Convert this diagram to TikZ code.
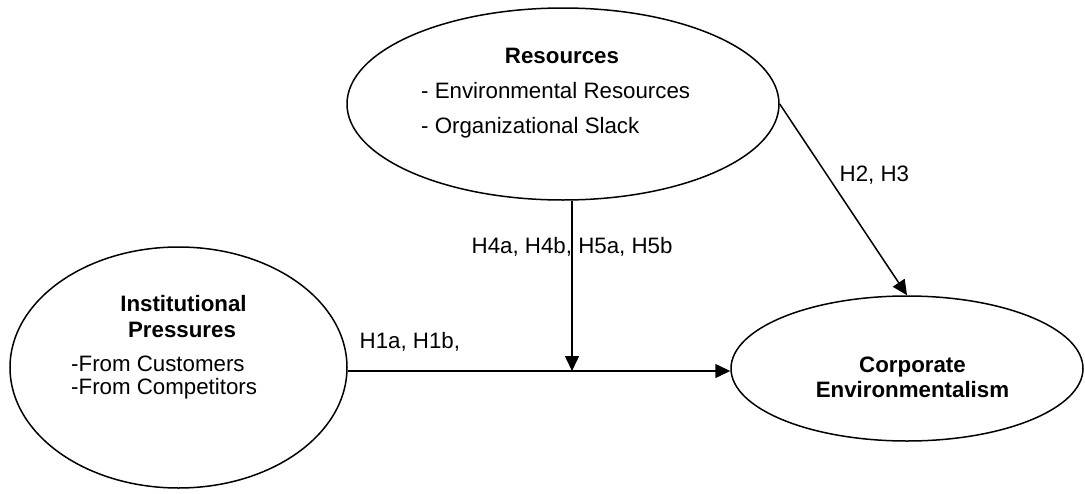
\documentclass[tikz,border=0pt]{standalone}
\usepackage{fontspec}
\setmainfont{Liberation Sans}
\usetikzlibrary{shapes.geometric,arrows.meta}
\begin{document}
\begin{tikzpicture}[x=1pt,y=-1pt,
  every node/.style={font=\fontsize{22.3}{26}\selectfont},
  oval/.style={draw,ellipse,line width=1.5pt,inner sep=0pt},
  txt/.style={inner sep=0pt},
  arr/.style={line width=1.5pt,-{Triangle[length=15pt,width=14pt]}},
  conn/.style={line width=1.5pt}]
\useasboundingbox (0,0) rectangle (1085,493);
% ellipses
\node[oval,minimum width=432pt,minimum height=192pt] (res) at (563,104) {};
\node[oval,minimum width=337pt,minimum height=241pt] (inst) at (178.5,367.5) {};
\node[oval,minimum width=352pt,minimum height=145pt] (corp) at (907,368.5) {};
% texts in Resources
\node[txt,anchor=base,font=\fontsize{22.3}{26}\selectfont\bfseries] (resT) at (562,63) {Resources};
\node[txt,anchor=base west] (res1) at (421,98) {- Environmental Resources};
\node[txt,anchor=base west] (res2) at (421,133) {- Organizational Slack};
% texts in Institutional
\node[txt,anchor=base,font=\fontsize{22.3}{26}\selectfont\bfseries] (instT1) at (183.5,311) {Institutional};
\node[txt,anchor=base,font=\fontsize{22.3}{26}\selectfont\bfseries] (instT2) at (182,337) {Pressures};
\node[txt,anchor=base west] (inst1) at (71,371) {-From Customers};
\node[txt,anchor=base west] (inst2) at (71,394) {-From Competitors};
% texts in Corporate
\node[txt,anchor=base,font=\fontsize{22.3}{26}\selectfont\bfseries] (corpT1) at (912.5,372) {Corporate};
\node[txt,anchor=base,font=\fontsize{22.3}{26}\selectfont\bfseries] (corpT2) at (912.5,397) {Environmentalism};
% connectors
\coordinate (hy) at (0,371);
\coordinate (mid) at (572,371);
\draw[arr] (inst.east |- hy) -- (corp.west |- hy);
\draw[arr] (res.south -| mid) -- (mid);
\draw[arr] (res.east) -- (corp.north);
% labels
\node[txt,anchor=base west] (h1) at (359.5,348) {H1a, H1b,};
\node[txt,anchor=base west] (h4) at (471.5,253) {H4a, H4b, H5a, H5b};
\node[txt,anchor=base west] (h2) at (839.5,181) {H2, H3};
\end{tikzpicture}
\end{document}
